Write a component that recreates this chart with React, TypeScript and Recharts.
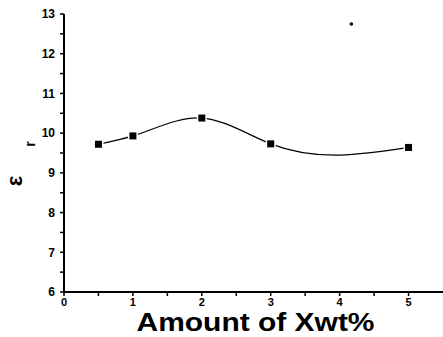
import React from 'react';
import { LineChart, Line, XAxis, YAxis, ReferenceDot } from 'recharts';

// values
const amounts = [0.5, 1, 2, 3, 5];
const permittivity = [9.72, 9.93, 10.38, 9.73, 9.64];
const xTicks = [0, 0.5, 1, 1.5, 2, 2.5, 3, 3.5, 4, 4.5, 5];
const yTicks = [6, 6.5, 7, 7.5, 8, 8.5, 9, 9.5, 10, 10.5, 11, 11.5, 12, 12.5, 13];
const strayDot = { x: 4.17, y: 12.75 };

const data = amounts.map((a, i) => ({ amount: a, er: permittivity[i] }));

const FONT = '"Liberation Sans", Arial, sans-serif';

const intOnly = (v: number) => (Number.isInteger(v) ? String(v) : '');

// natural cubic spline y(x) (like Origin's "Spline" connect), used as a d3-style curve factory
function splineX(context: any) {
  let xs: number[] = [];
  let ys: number[] = [];
  return {
    areaStart() {},
    areaEnd() {},
    lineStart() {
      xs = [];
      ys = [];
    },
    point(x: number, y: number) {
      xs.push(+x);
      ys.push(+y);
    },
    lineEnd() {
      const n = xs.length;
      if (!n) return;
      context.moveTo(xs[0], ys[0]);
      if (n < 3) {
        if (n === 2) context.lineTo(xs[1], ys[1]);
        return;
      }
      const h: number[] = [];
      const d: number[] = [];
      for (let i = 0; i < n - 1; i++) {
        h.push(xs[i + 1] - xs[i]);
        d.push((ys[i + 1] - ys[i]) / h[i]);
      }
      // tridiagonal solve for second derivatives, M0 = Mn-1 = 0
      const M = new Array(n).fill(0);
      const a: number[] = [], b: number[] = [], c: number[] = [], r: number[] = [];
      for (let i = 1; i < n - 1; i++) {
        a.push(h[i - 1]);
        b.push(2 * (h[i - 1] + h[i]));
        c.push(h[i]);
        r.push(6 * (d[i] - d[i - 1]));
      }
      const m = b.length;
      for (let i = 1; i < m; i++) {
        const w = a[i] / b[i - 1];
        b[i] -= w * c[i - 1];
        r[i] -= w * r[i - 1];
      }
      const sol = new Array(m).fill(0);
      sol[m - 1] = r[m - 1] / b[m - 1];
      for (let i = m - 2; i >= 0; i--) sol[i] = (r[i] - c[i] * sol[i + 1]) / b[i];
      for (let i = 0; i < m; i++) M[i + 1] = sol[i];
      for (let i = 0; i < n - 1; i++) {
        const s0 = d[i] - (h[i] * (2 * M[i] + M[i + 1])) / 6;
        const s1 = d[i] + (h[i] * (M[i] + 2 * M[i + 1])) / 6;
        const t = h[i] / 3;
        context.bezierCurveTo(xs[i] + t, ys[i] + s0 * t, xs[i + 1] - t, ys[i + 1] - s1 * t, xs[i + 1], ys[i + 1]);
      }
    },
  };
}

/** square marker with a white halo so the line stops short of it */
function SquareDot(props: any) {
  const { cx, cy } = props;
  if (cx == null || cy == null) return null;
  return <rect x={cx - 3.5} y={cy - 3.5} width={7} height={7} fill="#000" stroke="#fff" strokeWidth={3} paintOrder="stroke" />;
}

export default function App() {
  return (
    <div style={{ width: 443, height: 337, background: '#fff' }}>
      <style>{'body{margin:0}'}</style>
      <LineChart width={443} height={337} data={data} margin={{ top: 14, right: 0, bottom: 0, left: 0 }}>
        <XAxis
          xAxisId="top"
          orientation="top"
          dataKey="amount"
          type="number"
          domain={[0, 5.5]}
          height={0}
          tick={false}
          tickLine={false}
          axisLine={{ stroke: '#000', strokeWidth: 1.5 }}
        />
        <XAxis
          dataKey="amount"
          type="number"
          domain={[0, 5.5]}
          ticks={xTicks}
          tickFormatter={intOnly}
          height={45}
          tickSize={4}
          tickMargin={2}
          axisLine={{ stroke: '#000', strokeWidth: 2 }}
          tickLine={{ stroke: '#000', strokeWidth: 1.5 }}
          tick={{ fill: '#000', fontSize: 11, fontWeight: 'bold', fontFamily: FONT }}
          label={({ viewBox }: any) => (
            <text
              x={viewBox.x + viewBox.width / 2 + 2}
              y={viewBox.y + 39}
              textAnchor="middle"
              textLength={238}
              lengthAdjust="spacingAndGlyphs"
              fontFamily={FONT}
              fontWeight="bold"
              fontSize={26}
              fill="#000"
            >
              Amount of Xwt%
            </text>
          )}
        />
        <YAxis
          type="number"
          domain={[6, 13]}
          ticks={yTicks}
          tickFormatter={intOnly}
          width={64}
          tickSize={4}
          tickMargin={5}
          axisLine={{ stroke: '#000', strokeWidth: 2 }}
          tickLine={{ stroke: '#000', strokeWidth: 1.5 }}
          tick={{ fill: '#000', fontSize: 12, fontWeight: 'bold', fontFamily: FONT }}
          label={({ viewBox }: any) => {
            const cy = viewBox.y + viewBox.height / 2;
            return (
              <g fontFamily={FONT} fontWeight="bold" fill="#000">
                <text x={14} y={cy + 28} fontSize={22} textAnchor="middle" dominantBaseline="central" transform={`rotate(-90 14 ${cy + 28})`}>
                  ε
                </text>
                <text x={30} y={cy - 9} fontSize={14} textAnchor="middle" dominantBaseline="central" transform={`rotate(-90 30 ${cy - 9})`}>
                  r
                </text>
              </g>
            );
          }}
        />
        <Line
          type={splineX as any}
          dataKey="er"
          stroke="#000"
          strokeWidth={1.2}
          dot={<SquareDot />}
          activeDot={false}
          isAnimationActive={false}
        />
        <ReferenceDot x={strayDot.x} y={strayDot.y} r={1.8} fill="#000" stroke="none" />
      </LineChart>
    </div>
  );
}
